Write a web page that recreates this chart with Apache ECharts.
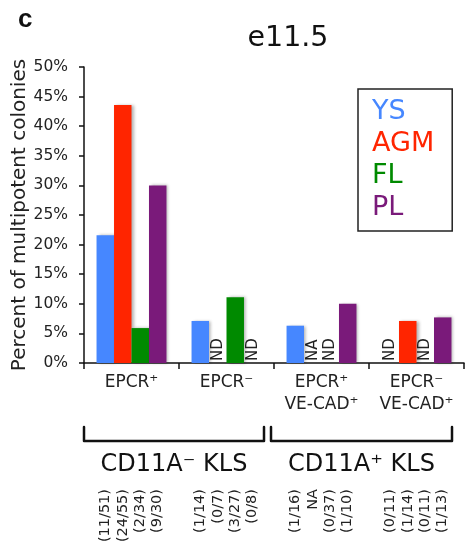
<!DOCTYPE html>
<html>
<head>
<meta charset="utf-8">
<script src="https://cdn.jsdelivr.net/npm/echarts@6/dist/echarts.min.js"></script>
<style>
html,body{margin:0;padding:0;background:#fff;}
#chart{width:465px;height:544px;}
</style>
</head>
<body>
<div id="chart"></div>
<script>
// ---- data ----
const categories = ['EPCR⁺', 'EPCR⁻', 'EPCR⁺\nVE-CAD⁺', 'EPCR⁻\nVE-CAD⁺'];
const seriesNames = ['YS', 'AGM', 'FL', 'PL'];
const ysValues  = [21.6, 7.1, 6.3, 0];
const agmValues = [43.6, 0, 0, 7.1];
const flValues  = [5.9, 11.1, 0, 0];
const plValues  = [30.0, 0, 10.0, 7.7];
const ysNotes  = ['', '', '', 'ND'];
const agmNotes = ['', 'ND', 'NA', ''];
const flNotes  = ['', '', 'ND', 'ND'];
const plNotes  = ['', 'ND', '', ''];
const ysCounts  = ['(11/51)', '(1/14)', '(1/16)', '(0/11)'];
const agmCounts = ['(24/55)', '(0/7)', 'NA', '(1/14)'];
const flCounts  = ['(2/34)', '(3/27)', '(0/37)', '(0/11)'];
const plCounts  = ['(9/30)', '(0/8)', '(1/10)', '(1/13)'];
const groupLabels = ['CD11A⁻ KLS', 'CD11A⁺ KLS'];
const yTicks = [0, 50, 5]; // min, max, interval (%)
const titleText = 'e11.5';
const panelLetter = 'c';
const yAxisName = 'Percent of multipotent colonies';

const colors = ['#4687ff', '#ff2500', '#008a00', '#7a1a7a'];
const FONT = 'DejaVu Sans';
const allValues = [ysValues, agmValues, flValues, plValues];
const allNotes = [ysNotes, agmNotes, flNotes, plNotes];
const allCounts = [ysCounts, agmCounts, flCounts, plCounts];
const BAR_FRAC = 0.184;

const chart = echarts.init(document.getElementById('chart'), null, {renderer: 'canvas'});

const series = seriesNames.map((name, si) => ({
  name: name,
  type: 'bar',
  barWidth: (BAR_FRAC * 100) + '%',
  barGap: '0%',
  itemStyle: {
    color: colors[si],
    shadowColor: 'rgba(0,0,0,0.3)',
    shadowBlur: 3,
    shadowOffsetX: 2,
    shadowOffsetY: 0
  },
  data: allValues[si].map((v, i) => {
    const note = allNotes[si][i];
    const item = {value: v};
    if (note) {
      item.label = {
        show: true,
        position: 'insideBottom',
        rotate: 90,
        align: 'left',
        verticalAlign: 'middle',
        distance: 2,
        formatter: note,
        color: '#222',
        fontFamily: FONT,
        fontSize: 15
      };
    }
    return item;
  })
}));

const option = {
  animation: false,
  backgroundColor: '#fff',
  title: [
    {text: panelLetter, left: 13, top: 2, textStyle: {fontFamily: 'Liberation Sans', fontWeight: 'bold', fontSize: 26, color: '#111'}},
    {text: titleText, left: 283, top: 19, textAlign: 'center', textStyle: {fontFamily: FONT, fontWeight: 'normal', fontSize: 28.5, color: '#111'}}
  ],
  legend: {
    orient: 'vertical',
    left: 358,
    top: 89,
    icon: 'none',
    itemWidth: 0,
    itemHeight: 14,
    itemGap: 2,
    selectedMode: false,
    borderColor: '#222',
    borderWidth: 1.5,
    padding: [8, 18, 8, 9],
    textStyle: {fontFamily: FONT, fontSize: 27, lineHeight: 30},
    data: seriesNames.map((n, i) => ({name: n, textStyle: {color: colors[i]}}))
  },
  grid: {left: 84, right: 1, top: 67, bottom: 181, containLabel: false, outerBoundsMode: 'none'},
  xAxis: {
    type: 'category',
    data: categories,
    axisLine: {lineStyle: {color: '#111', width: 1.5}},
    axisTick: {show: true, length: 6, lineStyle: {color: '#111', width: 1.5}},
    axisLabel: {
      interval: 0,
      margin: 9,
      fontFamily: FONT,
      fontSize: 17,
      lineHeight: 22,
      color: '#222'
    }
  },
  yAxis: {
    type: 'value',
    min: yTicks[0],
    max: yTicks[1],
    interval: yTicks[2],
    name: yAxisName,
    nameLocation: 'middle',
    nameGap: 54,
    nameMoveOverlap: false,
    nameTextStyle: {fontFamily: FONT, fontSize: 20, color: '#222'},
    axisLine: {show: true, lineStyle: {color: '#111', width: 1.5}},
    axisTick: {show: true, length: 5, lineStyle: {color: '#111', width: 1.5}},
    splitLine: {show: false},
    axisLabel: {
      formatter: '{value}%',
      margin: 16,
      fontFamily: FONT,
      fontSize: 15.5,
      color: '#222'
    }
  },
  series: series
};

chart.setOption(option);

// ---- annotations positioned from the axes ----
const centers = categories.map((c, i) => chart.convertToPixel({xAxisIndex: 0}, i));
const band = centers[1] - centers[0];
const baseY = chart.convertToPixel({yAxisIndex: 0}, 0);
const graphics = [];

// brackets spanning category pairs
const bounds = [centers[0] - band / 2, centers[1] + band / 2, centers[3] + band / 2];
const bracketSpans = [[bounds[0], bounds[1] - 10], [bounds[1] - 3, bounds[2] - 12]];
const brTop = baseY + 64, brBot = baseY + 78;
bracketSpans.forEach((sp, k) => {
  graphics.push({
    type: 'polyline',
    shape: {points: [[sp[0], brTop], [sp[0], brBot], [sp[1], brBot], [sp[1], brTop]]},
    style: {stroke: '#111', lineWidth: 2.5, fill: null, lineJoin: 'round', lineCap: 'round'}
  });
  graphics.push({
    type: 'text',
    x: (sp[0] + sp[1]) / 2,
    y: baseY + 102,
    style: {
      text: groupLabels[k], font: '24px "' + FONT + '"', fill: '#111',
      align: 'center', verticalAlign: 'middle', textAlign: 'center', textVerticalAlign: 'middle'
    }
  });
});

// counts under each bar
for (let i = 0; i < categories.length; i++) {
  for (let si = 0; si < seriesNames.length; si++) {
    const x = centers[i] + (si - 1.5) * band * BAR_FRAC;
    graphics.push({
      type: 'text',
      x: x,
      y: baseY + 126,
      rotation: Math.PI / 2,
      style: {
        text: allCounts[si][i], font: '14.5px "' + FONT + '"', fill: '#222',
        align: 'right', verticalAlign: 'middle', textAlign: 'right', textVerticalAlign: 'middle'
      }
    });
  }
}

chart.setOption({graphic: graphics});
</script>
</body>
</html>
